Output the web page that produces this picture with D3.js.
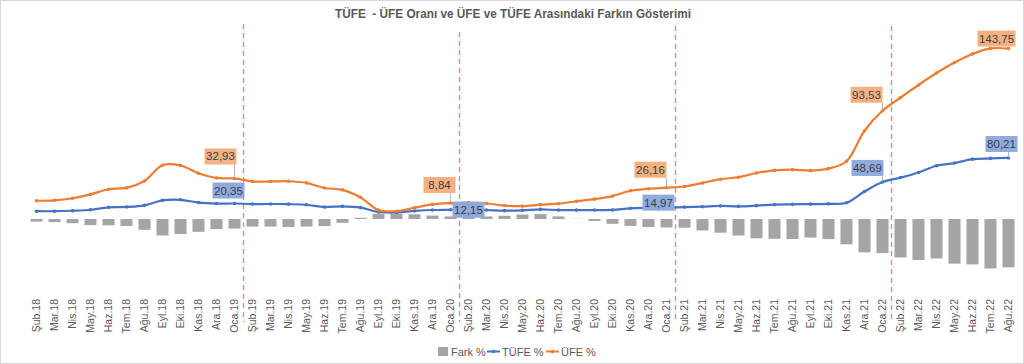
<!DOCTYPE html>
<html>
<head>
<meta charset="utf-8">
<script src="https://cdn.jsdelivr.net/npm/d3@7"></script>
<style>
  html, body { margin: 0; padding: 0; background: #fff; }
  svg { display: block; font-family: "Liberation Sans", "DejaVu Sans", sans-serif; }
</style>
</head>
<body>
<svg id="chart" width="1024" height="364"></svg>
<script>
// ---- DATA ----
const months = [
  "Şub.18","Mar.18","Nis.18","May.18","Haz.18","Tem.18","Ağu.18","Eyl.18","Eki.18","Kas.18","Ara.18",
  "Oca.19","Şub.19","Mar.19","Nis.19","May.19","Haz.19","Tem.19","Ağu.19","Eyl.19","Eki.19","Kas.19","Ara.19",
  "Oca.20","Şub.20","Mar.20","Nis.20","May.20","Haz.20","Tem.20","Ağu.20","Eyl.20","Eki.20","Kas.20","Ara.20",
  "Oca.21","Şub.21","Mar.21","Nis.21","May.21","Haz.21","Tem.21","Ağu.21","Eyl.21","Eki.21","Kas.21","Ara.21",
  "Oca.22","Şub.22","Mar.22","Nis.22","May.22","Haz.22","Tem.22","Ağu.22"
];
const tufe = [
  10.26,10.23,10.85,12.15,15.39,15.85,17.90,24.52,25.24,21.62,20.30,
  20.35,19.67,19.71,19.50,18.71,15.72,16.65,15.01,9.26,8.55,10.56,11.84,
  12.15,12.37,11.86,10.94,11.39,12.62,11.76,11.77,11.75,11.89,14.03,14.60,
  14.97,15.61,16.19,17.14,16.59,17.53,18.95,19.25,19.58,19.89,21.31,36.08,
  48.69,54.44,61.14,69.97,73.50,78.62,79.60,80.21
];
const ufe = [
  13.71,14.28,16.37,20.16,23.71,25.00,32.13,46.15,45.01,38.54,33.64,
  32.93,29.64,29.64,30.12,28.71,25.04,21.66,13.45,2.45,1.70,4.26,7.36,
  8.84,9.26,8.50,6.71,5.53,6.17,8.33,11.53,14.33,18.20,23.11,25.15,
  26.16,27.09,31.20,35.17,38.33,42.89,44.92,45.52,43.96,46.31,54.62,79.89,
  93.53,105.01,114.97,121.82,132.16,138.31,144.61,143.75
];
const fark = [
  -3.45,-4.05,-5.52,-8.01,-8.32,-9.15,-14.23,-21.63,-19.77,-16.92,-13.34,
  -12.58,-9.97,-9.93,-10.62,-10.00,-9.32,-5.01,1.56,6.81,6.85,6.30,4.48,
  3.31,3.11,3.36,4.23,5.86,6.45,3.43,0.24,-2.58,-6.31,-9.08,-10.55,
  -11.19,-11.48,-15.01,-18.03,-21.74,-25.36,-25.97,-26.27,-24.38,-26.42,-33.31,-43.81,
  -44.84,-50.57,-53.83,-51.85,-58.66,-59.69,-65.01,-63.54
];
const labelMonths = ["Oca.19","Oca.20","Oca.21","Oca.22","Ağu.22"];
const dividerAfter = ["Oca.19","Oca.20","Oca.21","Oca.22"];
const seriesNames = ["Fark %","TÜFE %","ÜFE %"];
const title = "TÜFE  - ÜFE Oranı ve ÜFE ve TÜFE Arasındaki Farkın Gösterimi";

// ---- STYLE / LAYOUT ----
const C = { bar: "#A5A5A5", blue: "#4472C4", orange: "#ED7D31",
            blueBox: "#8FAADC", orangeBox: "#F4B183", text: "#595959", divider: "#E5838A" };
const ufeLabelOff = [[-14,-22],[-11,-18],[-16,-18],[-16,-16],[-12,-10]];
const tufeLabelOff = [[-6,-13],[18,0],[-8,-5],[-15,-14],[-7,-14]];
const dividerTop = [24, 32, 26, 26];

const svg = d3.select("#chart");
svg.append("rect").attr("x",0.5).attr("y",0.5).attr("width",1023).attr("height",363)
  .attr("fill","#fff").attr("stroke","#D9D9D9");

const x = d3.scaleBand().domain(months).range([27.5, 1017.5]).paddingInner(0.33).paddingOuter(0.165);
const y = d3.scaleLinear().domain([-100, 250]).range([219 + 76.1, 219 - 190.25]);
const cx = m => x(m) + x.bandwidth() / 2;

// title
svg.append("text").attr("x", 513).attr("y", 18).attr("text-anchor","middle")
  .attr("font-size", 13.5).attr("font-weight","bold").attr("fill", C.text)
  .attr("textLength", 356).attr("lengthAdjust","spacingAndGlyphs")
  .style("white-space","pre").text(title);

// bars
svg.append("g").selectAll("rect").data(months).join("rect")
  .attr("x", m => x(m)).attr("width", x.bandwidth())
  .attr("y", (m,i) => y(Math.max(0, fark[i])))
  .attr("height", (m,i) => Math.abs(y(fark[i]) - y(0)))
  .attr("fill", C.bar);

// dividers
svg.append("g").selectAll("line").data(dividerAfter).join("line")
  .attr("x1", m => cx(m) + x.step()/2).attr("x2", m => cx(m) + x.step()/2)
  .attr("y1", (m,i) => dividerTop[i]).attr("y2", 322)
  .attr("stroke", C.divider).attr("stroke-width", 1.3).attr("stroke-dasharray","5,4");

// lines (stacked: ÜFE drawn on top of TÜFE)
const tufePts = months.map((m,i) => [cx(m), y(tufe[i])]);
const ufePts = months.map((m,i) => [cx(m), y(tufe[i] + ufe[i])]);
const line = d3.line().curve(d3.curveCatmullRom.alpha(0.5));
[[tufePts, C.blue],[ufePts, C.orange]].forEach(([pts,col]) => {
  svg.append("path").attr("d", line(pts)).attr("fill","none").attr("stroke", col).attr("stroke-width", 2.2);
  svg.append("g").selectAll("circle").data(pts).join("circle")
    .attr("cx", d => d[0]).attr("cy", d => d[1]).attr("r", 1.8).attr("fill", col);
});

// data labels
const fmt = v => v.toFixed(2).replace(".", ",");
function dataLabel(px, py, off, txt, fill) {
  const w = txt.length > 5 ? 38 : 32, h = 16;
  const bx = px + off[0] - w/2, by = py + off[1] - h/2;
  const qx = Math.max(bx, Math.min(px, bx + w)), qy = Math.max(by, Math.min(py, by + h));
  if (Math.hypot(px - qx, py - qy) > 5) {
    svg.append("line").attr("x1", qx).attr("y1", qy).attr("x2", px).attr("y2", py)
      .attr("stroke", "#A6A6A6").attr("stroke-width", 0.8);
  }
  svg.append("rect").attr("x", bx).attr("y", by).attr("width", w).attr("height", h).attr("fill", fill);
  svg.append("text").attr("x", bx + w/2).attr("y", by + h/2 + 4).attr("text-anchor","middle")
    .attr("font-size", 11.5).attr("fill", "#404040").text(txt);
}
labelMonths.forEach((m, k) => {
  const i = months.indexOf(m);
  dataLabel(ufePts[i][0], ufePts[i][1], ufeLabelOff[k], fmt(ufe[i]), C.orangeBox);
  dataLabel(tufePts[i][0], tufePts[i][1], tufeLabelOff[k], fmt(tufe[i]), C.blueBox);
});

// x axis labels
svg.append("g").selectAll("text").data(months).join("text")
  .attr("transform", m => `translate(${cx(m) + 3.8},299) rotate(-90)`)
  .attr("text-anchor","end").attr("font-size", 10.5).attr("fill", C.text).text(m => m);

// legend
const lg = svg.append("g").attr("font-size", 11).attr("fill", C.text);
lg.append("rect").attr("x", 438).attr("y", 347).attr("width", 10).attr("height", 9).attr("fill", C.bar);
lg.append("text").attr("x", 451).attr("y", 355.5).text(seriesNames[0]);
[[487, C.blue, seriesNames[1], 502],[546, C.orange, seriesNames[2], 561]].forEach(([lx,col,name,tx]) => {
  lg.append("line").attr("x1", lx).attr("x2", lx + 13).attr("y1", 351.5).attr("y2", 351.5)
    .attr("stroke", col).attr("stroke-width", 2);
  lg.append("circle").attr("cx", lx + 6.5).attr("cy", 351.5).attr("r", 1.8).attr("fill", col);
  lg.append("text").attr("x", tx).attr("y", 355.5).text(name);
});
</script>
</body>
</html>
